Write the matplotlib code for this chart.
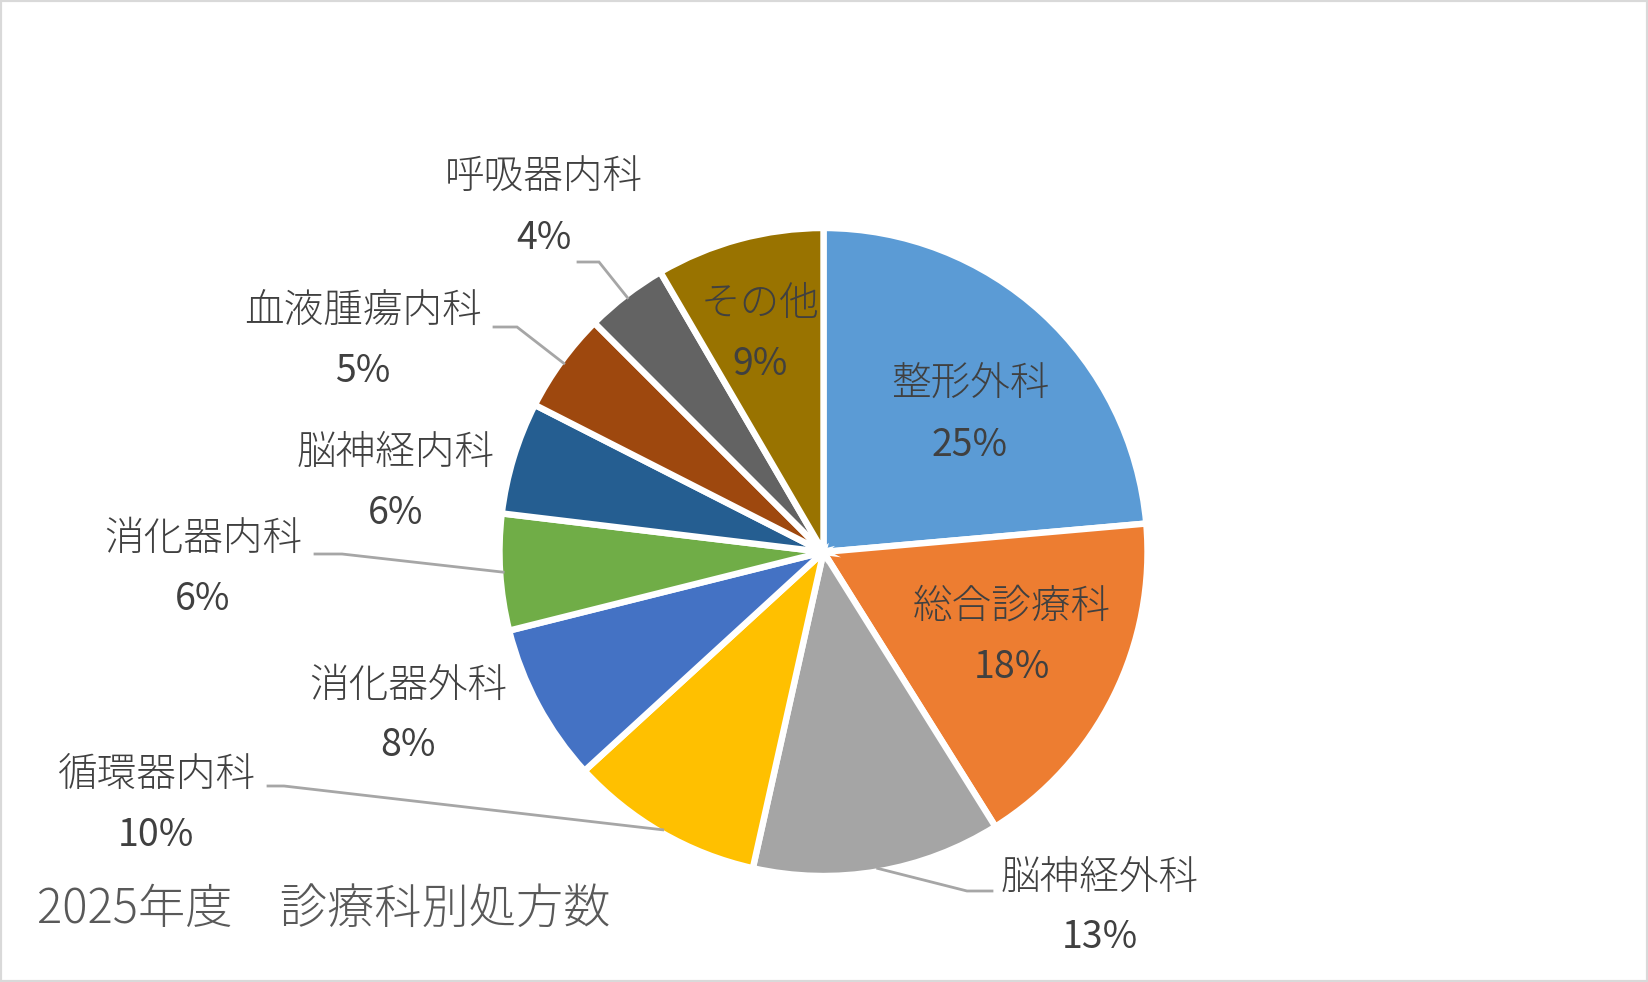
import matplotlib
matplotlib.use('Agg')
import numpy as np
import matplotlib.pyplot as plt
from matplotlib.patches import Rectangle

plt.rcParams['font.family'] = ['Noto Sans CJK JP', 'DejaVu Sans']

# データ（円グラフの角度から読み取った割合）
departments = ['整形外科', '総合診療科', '脳神経外科', '循環器内科', '消化器外科',
               '消化器内科', '脳神経内科', '血液腫瘍内科', '呼吸器内科', 'その他']
shares = [23.6, 17.5, 12.4, 9.7, 7.9, 5.8, 5.6, 5.0, 4.1, 8.4]
pct_labels = ['25%', '18%', '13%', '10%', '8%', '6%', '6%', '5%', '4%', '9%']
title = '2025年度\u3000診療科別処方数'

colors = ['#5B9BD5', '#ED7D31', '#A5A5A5', '#FFC000', '#4472C4',
          '#70AD47', '#255E91', '#9E480E', '#636363', '#997300']

W, H = 1648, 982
# ラベル位置（ピクセル、上から）
label_pos = [(970, 385), (1012, 607), (1100, 878), (156, 775), (408, 686),
             (203, 539), (396, 453), (363, 311), (544, 178), (760, 304)]
# 引き出し線（折れ点, 終点）
leaders = {2: ((967, 891), (992, 891)),
           3: ((284, 786), (268, 786)),
           5: ((342, 554), (315, 554)),
           7: ((517, 327), (494, 327)),
           8: ((599, 262), (578, 262))}

cx, cy, r = 823.5, 552, 324

fig = plt.figure(figsize=(W / 100, H / 100), dpi=100)
ax = fig.add_axes([0, 0, 1, 1])
wedges, _ = ax.pie(shares, colors=colors, startangle=90, counterclock=False,
                   center=(cx, H - cy), radius=r,
                   wedgeprops=dict(edgecolor='white', linewidth=4.6))
ax.set_xlim(0, W)
ax.set_ylim(0, H)
ax.set_aspect('equal')
ax.axis('off')

txt_color = '#404040'
for i, (name, pct) in enumerate(zip(departments, pct_labels)):
    x, y = label_pos[i]
    ax.text(x, H - y, name, ha='center', va='center', fontsize=28.5,
            color=txt_color, fontweight='light')
    ax.text(x, H - y - 60, pct, ha='center', va='center', fontsize=27, color=txt_color)
    if i in leaders:
        w = wedges[i]
        mid = np.deg2rad((w.theta1 + w.theta2) / 2)
        sx, sy = cx + (r - 3) * np.cos(mid), (H - cy) + (r - 3) * np.sin(mid)
        (ex, ey), (fx, fy) = leaders[i]
        ax.plot([sx, ex, fx], [sy, H - ey, H - fy], color='#A6A6A6', lw=2,
                solid_joinstyle='miter')

ax.text(37, H - 909, title, ha='left', va='center', fontsize=34, color='#595959',
        fontweight='light')

fig.patches.append(Rectangle((0, 0), 1, 1, transform=fig.transFigure, fill=False,
                             edgecolor='#D9D9D9', linewidth=3))

plt.savefig('out.png', dpi=100)
